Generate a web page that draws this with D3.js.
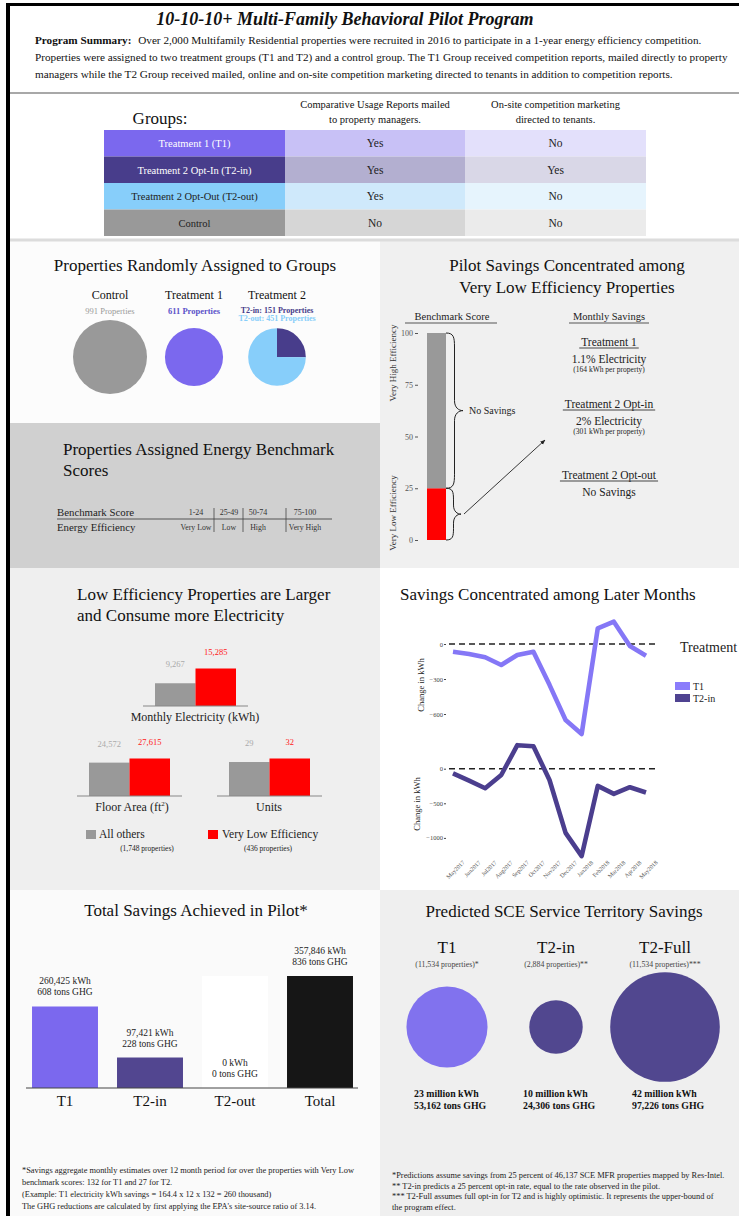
<!DOCTYPE html>
<html><head><meta charset="utf-8">
<script src="https://cdn.jsdelivr.net/npm/d3@7/dist/d3.min.js"></script>
<style>
body{margin:0;background:#fff;overflow:hidden}
svg{display:block;font-family:"Liberation Serif","Times New Roman",serif}
</style>
</head><body>
<svg id="c" width="739" height="1216"></svg>
<script>
// ---------------- DATA ----------------
const groupNames = ["Treatment 1 (T1)", "Treatment 2 Opt-In (T2-in)", "Treatment 2 Opt-Out (T2-out)", "Control"];
const reportsMailed = ["Yes", "Yes", "Yes", "No"];
const onsiteMarketing = ["No", "Yes", "No", "No"];
const tableHeaders = [["Comparative Usage Reports mailed", "to property managers."], ["On-site competition marketing", "directed to tenants."]];

const pieGroups = ["Control", "Treatment 1", "Treatment 2"];
const pieCounts = [991, 611, 602];
const t2SplitNames = ["T2-in", "T2-out"];
const t2Split = [151, 451];

const scoreRanges = ["1-24", "25-49", "50-74", "75-100"];
const efficiencyLabels = ["Very Low", "Low", "High", "Very High"];

const benchmarkTicks = [0, 25, 50, 75, 100];
const benchmarkSegments = [[0, 25], [25, 100]];

const savingsGroups = ["Treatment 1", "Treatment 2 Opt-in", "Treatment 2 Opt-out"];
const savingsMain = ["1.1% Electricity", "2% Electricity", "No Savings"];
const savingsSub = ["(164 kWh per property)", "(301 kWh per property)", ""];

const sizeMetrics = ["Monthly Electricity (kWh)", "Floor Area (ft", "Units"];
const allOthersVals = [9267, 24572, 29];
const veryLowVals = [15285, 27615, 32];

const months = ["May2017", "Jun2017", "Jul2017", "Aug2017", "Sep2017", "Oct2017", "Nov2017", "Dec2017", "Jan2018", "Feb2018", "Mar2018", "Apr2018", "May2018"];
const t1Change = [-66, -85, -114, -180, -94, -66, -350, -651, -771, 134, 191, -17, -100];
const t2Change = [-67, -172, -282, -91, 340, 325, -163, -928, -1263, -249, -364, -268, -344];
const t1Ticks = [0, -300, -600];
const t2Ticks = [0, -500, -1000];

const totalCats = ["T1", "T2-in", "T2-out", "Total"];
const totalKwh = [260425, 97421, 0, 357846];
const totalGhg = [608, 228, 0, 836];

const predCats = ["T1", "T2-in", "T2-Full"];
const predProps = ["(11,534 properties)*", "(2,884 properties)**", "(11,534 properties)***"];
const predKwhMillion = [23, 10, 42];
const predGhg = [53162, 24306, 97226];

const footLeft = [
  "*Savings aggregate monthly estimates over 12 month period for over the properties with Very Low",
  "benchmark scores: 132 for T1 and 27 for T2.",
  "(Example: T1 electricity kWh savings = 164.4 x 12 x 132 = 260 thousand)",
  "The GHG reductions are calculated by first applying the EPA's site-source ratio of 3.14."
];
const footRight = [
  "*Predictions assume savings from 25 percent of 46,137 SCE MFR properties mapped by Res-Intel.",
  "** T2-in predicts a 25 percent opt-in rate, equal to the rate observed in the pilot.",
  "*** T2-Full assumes full opt-in for T2 and is highly optimistic. It represents the upper-bound of",
  "the program effect."
];

// ---------------- DRAW ----------------
const svg = d3.select("#c");
function T(x, y, s, size, o = {}) {
  const t = svg.append("text").attr("x", x).attr("y", y).attr("font-size", size)
    .attr("text-anchor", o.anchor || "start").attr("fill", o.fill || "#111").text(s);
  if (o.weight) t.attr("font-weight", o.weight);
  if (o.style) t.attr("font-style", o.style);
  if (o.rotate !== undefined) t.attr("transform", `rotate(${o.rotate},${x},${y})`);
  return t;
}
function R(x, y, w, h, fill) {
  return svg.append("rect").attr("x", x).attr("y", y).attr("width", w).attr("height", h).attr("fill", fill);
}
function L(x1, y1, x2, y2, stroke, w) {
  return svg.append("line").attr("x1", x1).attr("y1", y1).attr("x2", x2).attr("y2", y2)
    .attr("stroke", stroke).attr("stroke-width", w || 1);
}

// panel backgrounds
R(10, 7, 729, 86, "#ffffff");
R(10, 93, 729, 147, "#ffffff");
R(10, 241, 370, 182, "#fcfcfc");
R(10, 423, 370, 145, "#d0d0d0");
R(380, 241, 359, 327, "#f0f0f0");
R(10, 568, 370, 322, "#efefef");
R(380, 568, 359, 322, "#ffffff");
R(10, 890, 370, 326, "#fafafa");
R(380, 890, 359, 326, "#efefef");
L(10, 93, 739, 93, "#a8a8a8", 2);
L(10, 240, 739, 240, "#dcdcdc", 3);
// frame
R(6, 3, 733, 3, "#000");
R(6, 3, 4, 1213, "#000");

// ---- header ----
T(345, 25, "10-10-10+ Multi-Family Behavioral Pilot Program", 18, {anchor: "middle", weight: "bold", style: "italic"});
const s1 = T(35, 44, "", 11.2);
s1.append("tspan").attr("font-weight", "bold").text("Program Summary:");
s1.append("tspan").attr("dx", 4).text(" Over 2,000 Multifamily Residential properties were recruited in 2016 to participate in a 1-year energy efficiency competition.");
T(35, 61, "Properties were assigned to two treatment groups (T1 and T2) and a control group. The T1 Group received competition reports, mailed directly to property", 11.2);
T(35, 78, "managers while the T2 Group received mailed, online and on-site competition marketing directed to tenants in addition to competition reports.", 11.2);

// ---- groups table ----
T(160, 124, "Groups:", 17, {anchor: "middle"});
const colX = [104, 285, 465, 646];
tableHeaders.forEach((h, i) => {
  const cx = (colX[i + 1] + colX[i + 2]) / 2;
  T(cx, 108, h[0], 10.5, {anchor: "middle"});
  T(cx, 123, h[1], 10.5, {anchor: "middle"});
});
const rowY = d3.scaleBand().domain(groupNames).range([130, 236]);
const cellColors = [
  ["#7b68ee", "#c8c1f6", "#e3e0fb"],
  ["#483d8b", "#b3afd0", "#d9d7e7"],
  ["#87cefa", "#cfe9fb", "#e6f4fd"],
  ["#999999", "#d6d6d6", "#ebebeb"]
];
const textCol = ["#fff", "#fff", "#222", "#222"];
groupNames.forEach((g, i) => {
  const y0 = rowY(g), h = rowY.bandwidth();
  const vals = [g, reportsMailed[i], onsiteMarketing[i]];
  vals.forEach((v, j) => {
    R(colX[j], y0, colX[j + 1] - colX[j], h, cellColors[i][j]);
    T((colX[j] + colX[j + 1]) / 2, y0 + h / 2 + 4, v, j === 0 ? 10.5 : 11.5, {anchor: "middle", fill: j === 0 ? textCol[i] : "#222"});
  });
});

// ---- pies ----
T(195, 271, "Properties Randomly Assigned to Groups", 17, {anchor: "middle"});
const pieX = [110, 194, 277];
const rScale = d3.scaleSqrt().domain([0, 991]).range([0, 37]);
const pieCy = 357;
const pieColors = ["#999999", "#7b68ee", "#87cefa"];
pieGroups.forEach((g, i) => {
  T(pieX[i], 299, g, 12, {anchor: "middle"});
  const r = rScale(pieCounts[i]);
  if (i < 2) {
    svg.append("circle").attr("cx", pieX[i]).attr("cy", pieCy).attr("r", r).attr("fill", pieColors[i]);
  } else {
    const arcs = d3.pie().sort(null)(t2Split);
    const arc = d3.arc().innerRadius(0).outerRadius(r);
    svg.append("g").attr("transform", `translate(${pieX[i]},${pieCy})`).selectAll("path").data(arcs).join("path")
      .attr("d", arc).attr("fill", (d, k) => k === 0 ? "#483d8b" : "#87cefa");
  }
});
T(pieX[0], 314, pieCounts[0] + " Properties", 8.5, {anchor: "middle", fill: "#9a9a9a"});
T(pieX[1], 314, pieCounts[1] + " Properties", 8.5, {anchor: "middle", fill: "#5b52c9", weight: "bold"});
T(pieX[2], 313, t2SplitNames[0] + ": " + t2Split[0] + " Properties", 8, {anchor: "middle", fill: "#483d8b", weight: "bold"});
T(pieX[2], 320.5, t2SplitNames[1] + ": " + t2Split[1] + " Properties", 8, {anchor: "middle", fill: "#87cefa", weight: "bold"});

// ---- benchmark scores ----
T(63, 455, "Properties Assigned Energy Benchmark", 17);
T(63, 476, "Scores", 17);
T(57, 516, "Benchmark Score", 10.8, {fill: "#222"});
T(57, 531, "Energy Efficiency", 10.8, {fill: "#222"});
L(57, 519, 332, 519, "#555", 1);
const bmX = [196, 229, 258, 305];
scoreRanges.forEach((s, i) => {
  T(bmX[i], 515, s, 8, {anchor: "middle", fill: "#333"});
  T(bmX[i], 530, efficiencyLabels[i], 7.8, {anchor: "middle", fill: "#333"});
});
[214, 243, 286].forEach(x => L(x, 508, x, 532, "#444", 0.8));

// ---- pilot savings ----
T(567, 271, "Pilot Savings Concentrated among", 17, {anchor: "middle"});
T(567, 293, "Very Low Efficiency Properties", 17, {anchor: "middle"});
T(452, 320, "Benchmark Score", 10.5, {anchor: "middle", fill: "#222"});
L(405, 323, 497, 323, "#555", 1);
T(609, 320, "Monthly Savings", 10.5, {anchor: "middle", fill: "#222"});
L(569, 323, 649, 323, "#555", 1);
const yB = d3.scaleLinear().domain([0, 100]).range([540, 333]);
benchmarkSegments.forEach((s, i) => {
  R(427, yB(s[1]), 19, yB(s[0]) - yB(s[1]), i === 0 ? "#ff0000" : "#999999");
});
const axB = svg.append("g").attr("transform", "translate(418,0)")
  .call(d3.axisLeft(yB).tickValues(benchmarkTicks).tickSize(3).tickPadding(2));
axB.select(".domain").remove();
axB.selectAll("text").attr("font-family", "Liberation Serif").attr("font-size", 8).attr("fill", "#555");
axB.selectAll("line").attr("stroke", "#555");
T(396, 363, "Very High Efficiency", 9, {anchor: "middle", rotate: -90, fill: "#333"});
T(396, 513, "Very Low Efficiency", 9, {anchor: "middle", rotate: -90, fill: "#333"});
function brace(x, y1, y2, w) {
  const m = (y1 + y2) / 2, h = (y2 - y1) / 2, a = Math.min(14, h * 0.45), b = Math.min(10, h * 0.35), xm = x + w * 0.5;
  return `M${x},${y1} C${x + w * 0.45},${y1} ${xm},${y1 + a * 0.3} ${xm},${y1 + a} L${xm},${m - b} C${xm},${m - b * 0.3} ${x + w * 0.75},${m} ${x + w},${m}` +
    ` C${x + w * 0.75},${m} ${xm},${m + b * 0.3} ${xm},${m + b} L${xm},${y2 - a} C${xm},${y2 - a * 0.3} ${x + w * 0.45},${y2} ${x},${y2}`;
}
svg.append("path").attr("d", brace(446, yB(100), yB(25), 17)).attr("fill", "none").attr("stroke", "#222").attr("stroke-width", 1);
svg.append("path").attr("d", brace(446, yB(25), yB(0), 15)).attr("fill", "none").attr("stroke", "#222").attr("stroke-width", 1);
T(469, 414, "No Savings", 10, {fill: "#222"});
svg.append("defs").append("marker").attr("id", "ah").attr("viewBox", "0 0 10 10").attr("refX", 9).attr("refY", 5)
  .attr("markerWidth", 6).attr("markerHeight", 6).attr("orient", "auto")
  .append("path").attr("d", "M0,1 L10,5 L0,9 Z").attr("fill", "#222");
L(464, 514, 545, 440, "#222", 0.9).attr("marker-end", "url(#ah)");
const sgY = [342, 404, 475];
savingsGroups.forEach((g, i) => {
  const t = T(609, sgY[i] + 4, g, 11.5, {anchor: "middle", fill: "#222"});
  const w = t.node().getComputedTextLength();
  L(609 - w / 2 - 2, sgY[i] + 6, 609 + w / 2 + 2, sgY[i] + 6, "#444", 1);
  T(609, sgY[i] + 21, savingsMain[i], 11.5, {anchor: "middle", fill: "#222"});
  if (savingsSub[i]) T(609, sgY[i] + 30, savingsSub[i], 7.5, {anchor: "middle", fill: "#222"});
});

// ---- size bars ----
T(77, 600, "Low Efficiency Properties are Larger", 17);
T(77, 621, "and Consume more Electricity", 17);
const chartX = [155, 89, 229];
const chartBase = [706, 796, 796];
const labelCx = [195, 132, 269];
sizeMetrics.forEach((m, i) => {
  const h = d3.scaleLinear().domain([0, veryLowVals[i]]).range([0, 37.5]);
  const x0 = chartX[i], b = chartBase[i];
  const xb = d3.scaleBand().domain(["a", "v"]).range([x0, x0 + 81]);
  const vals = [allOthersVals[i], veryLowVals[i]];
  ["a", "v"].forEach((k, j) => {
    R(xb(k), b - h(vals[j]), xb.bandwidth(), h(vals[j]), j === 0 ? "#999999" : "#ff0000");
    T(xb(k) + xb.bandwidth() / 2, b - h(vals[j]) - 14 + (j === 0 ? -2 : 0), d3.format(",")(vals[j]), 8.5,
      {anchor: "middle", fill: j === 0 ? "#aaaaaa" : "#ff2020"});
  });
  L(x0 - 12, b, x0 + 93, b, "#888", 1.2);
  const t = T(labelCx[i], b + 15, m, 12, {anchor: "middle", fill: "#222"});
  if (i === 1) {
    t.append("tspan").attr("font-size", 7).attr("dy", -5).text("2");
    t.append("tspan").attr("dy", 5).text(")");
  }
});
R(86, 830, 10, 9, "#999999");
T(99, 838, "All others", 11.5, {fill: "#222"});
T(147, 851, "(1,748 properties)", 7.5, {anchor: "middle", fill: "#222"});
R(208, 830, 10, 9, "#ff0000");
T(222, 838, "Very Low Efficiency", 11.5, {fill: "#222"});
T(268, 851, "(436 properties)", 7.5, {anchor: "middle", fill: "#222"});

// ---- line charts ----
T(400, 600, "Savings Concentrated among Later Months", 17);
const xM = d3.scalePoint().domain(months).range([453, 646]);
const y1 = d3.scaleLinear().domain([-300, 0]).range([679, 644]);
const y2 = d3.scaleLinear().domain([-500, 0]).range([803.3, 768.7]);
[[y1, t1Ticks, t1Change, "#8577f6", 685, 424], [y2, t2Ticks, t2Change, "#4b3e8e", 804, 420]].forEach(([ys, ticks, vals, col, ty, tx]) => {
  L(449, ys(0), 656, ys(0), "#222", 1.6).attr("stroke-dasharray", "6,4");
  const ax = svg.append("g").attr("transform", "translate(446,0)")
    .call(d3.axisLeft(ys).tickValues(ticks).tickFormat(d3.format("d")).tickSize(2).tickPadding(1));
  ax.select(".domain").remove();
  ax.selectAll("text").attr("font-family", "Liberation Serif").attr("font-size", 6.5).attr("fill", "#444");
  ax.selectAll("line").attr("stroke", "#444");
  svg.append("path").datum(vals).attr("fill", "none").attr("stroke", col).attr("stroke-width", 4.6)
    .attr("stroke-linejoin", "round").attr("stroke-linecap", "butt")
    .attr("d", d3.line().x((d, i) => xM(months[i])).y(d => ys(d)));
  T(tx, ty, "Change in kWh", 8.5, {anchor: "middle", rotate: -90, fill: "#222"});
});
months.forEach(m => {
  T(xM(m) + 12, 863, m, 6, {anchor: "end", rotate: -45, fill: "#555"});
});
T(680, 652, "Treatment", 14, {fill: "#222"});
const legCols = ["#8a7cfb", "#4f4391"];
["T1", "T2-in"].forEach((k, i) => {
  R(675, 682 + i * 12, 15, 8, legCols[i]);
  T(693, 689.5 + i * 12, k, 10, {fill: "#222"});
});

// ---- total savings ----
T(196, 916, "Total Savings Achieved in Pilot*", 17, {anchor: "middle"});
const xT = d3.scaleBand().domain(totalCats).range([22.5, 362.5]).paddingInner(0.224).paddingOuter(0.112);
const yT = d3.scaleLinear().domain([0, d3.max(totalKwh)]).range([1088, 976]);
const totColors = ["#7b68ee", "#524690", "#ffffff", "#161616"];
totalCats.forEach((c, i) => {
  const v = c === "T2-out" ? d3.max(totalKwh) : totalKwh[i];
  R(xT(c), yT(v), xT.bandwidth(), yT(0) - yT(v), totColors[i]);
  const cx = xT(c) + xT.bandwidth() / 2;
  const top = yT(totalKwh[i]);
  T(cx, top - 22, d3.format(",")(totalKwh[i]) + " kWh", 9.5, {anchor: "middle", fill: "#222"});
  T(cx, top - 11, totalGhg[i] + " tons GHG", 9.5, {anchor: "middle", fill: "#222"});
  T(cx, 1106, c, 15, {anchor: "middle", fill: "#111"});
});
L(26, 1088, 358, 1088, "#444", 1.2);
footLeft.forEach((s, i) => T(22, 1173 + i * 12, s, 8.4, {fill: "#222"}));

// ---- predicted ----
T(564, 917, "Predicted SCE Service Territory Savings", 17, {anchor: "middle"});
const pX = [447, 556, 665];
const rP = d3.scaleSqrt().domain([0, 42]).range([0, 54.8]);
const pColors = ["#8172ee", "#51478f", "#51478f"];
predCats.forEach((c, i) => {
  T(pX[i], 953, c, 17, {anchor: "middle"});
  T(pX[i], 967, predProps[i], 7.8, {anchor: "middle", fill: "#444"});
  svg.append("circle").attr("cx", pX[i]).attr("cy", 1027).attr("r", rP(predKwhMillion[i])).attr("fill", pColors[i]);
  const lx = [414, 523, 632][i];
  T(lx, 1097, predKwhMillion[i] + " million kWh", 9.8, {weight: "bold", fill: "#111"});
  T(lx, 1109, d3.format(",")(predGhg[i]) + " tons GHG", 9.8, {weight: "bold", fill: "#111"});
});
footRight.forEach((s, i) => T(392, 1178 + i * 10.6, s, 8.4, {fill: "#222"}));
</script>
</body></html>
